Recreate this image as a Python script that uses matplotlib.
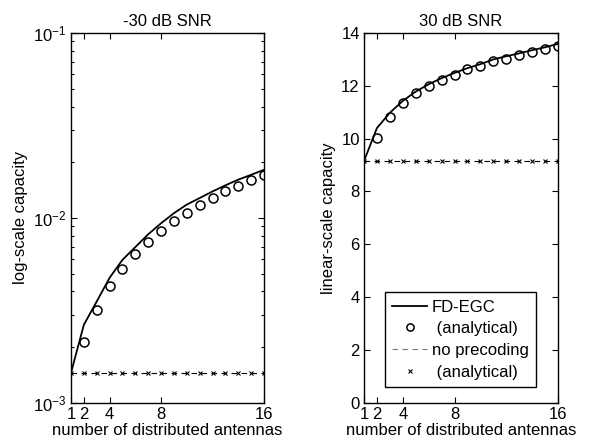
import matplotlib
matplotlib.use("Agg")
import matplotlib.pyplot as plt
import numpy as np

plt.rcParams['font.family'] = ['Liberation Sans', 'DejaVu Sans']
plt.rcParams['font.size'] = 12
plt.rcParams['mathtext.fontset'] = 'custom'
plt.rcParams['mathtext.rm'] = 'Liberation Sans'
plt.rcParams['mathtext.it'] = 'Liberation Sans'
plt.rcParams['mathtext.bf'] = 'Liberation Sans'

antennas = np.arange(1, 17)
xticks = [1, 2, 4, 8, 16]

# -30 dB SNR (log scale)
low_fd_egc = [1.45e-3, 2.64e-3, 3.53e-3, 4.74e-3, 5.93e-3, 6.95e-3, 8.15e-3, 9.35e-3,
              1.06e-2, 1.18e-2, 1.28e-2, 1.39e-2, 1.50e-2, 1.61e-2, 1.71e-2, 1.82e-2]
low_fd_egc_an = [1.45e-3, 2.14e-3, 3.18e-3, 4.29e-3, 5.30e-3, 6.40e-3, 7.43e-3, 8.49e-3,
                 9.61e-3, 1.06e-2, 1.18e-2, 1.28e-2, 1.39e-2, 1.49e-2, 1.61e-2, 1.70e-2]
low_noprec = [1.45e-3] * 16
low_noprec_an = [1.45e-3] * 16

# 30 dB SNR (linear scale)
high_fd_egc = [9.15, 10.4, 10.98, 11.43, 11.78, 12.06, 12.29, 12.49,
               12.67, 12.82, 13.0, 13.12, 13.23, 13.35, 13.46, 13.59]
high_fd_egc_an = [9.15, 10.04, 10.83, 11.34, 11.72, 12.0, 12.22, 12.41,
                  12.63, 12.76, 12.94, 13.03, 13.17, 13.29, 13.39, 13.49]
high_noprec = [9.15] * 16
high_noprec_an = [9.15] * 16

fig = plt.figure(figsize=(5.93, 4.46), dpi=100)
ax1 = fig.add_axes([0.1197, 0.097, 0.3255, 0.829])
ax2 = fig.add_axes([0.6138, 0.097, 0.3272, 0.829])

def draw(ax, fd, fd_an, nop, nop_an):
    l1, = ax.plot(antennas, fd, '-', color='black', lw=1.3, label='FD-EGC')
    l2, = ax.plot(antennas[1:], fd_an[1:], 'o', mfc='none', mec='black', ms=6.5, mew=1.1,
                  ls='none', label=' (analytical)')
    l3, = ax.plot(antennas, nop, '--', color='black', lw=0.8, dashes=(5, 4), label='no precoding')
    l4, = ax.plot(antennas, nop_an, 'x', color='black', ms=3.5, mew=0.8, ls='none', label=' (analytical)')
    ax.set_xlim(1, 16)
    ax.set_xticks(xticks)
    ax.set_xticklabels([str(t) for t in xticks])
    ax.tick_params(direction='in', which='both', top=True, right=True, length=4, width=0.8,
                   labelsize=12, pad=3)
    ax.tick_params(which='minor', length=2.5)
    ax.set_xlabel('number of distributed antennas', fontsize=12, labelpad=1)
    for s in ax.spines.values():
        s.set_linewidth(1.0)
    return [l1, l2, l3, l4]

draw(ax1, low_fd_egc, low_fd_egc_an, low_noprec, low_noprec_an)
ax1.set_yscale('log')
ax1.set_ylim(1e-3, 1e-1)
ax1.set_ylabel('log-scale capacity', fontsize=12)
ax1.set_title('-30 dB SNR', fontsize=12, pad=5)

handles = draw(ax2, high_fd_egc, high_fd_egc_an, high_noprec, high_noprec_an)
ax2.set_ylim(0, 14)
ax2.set_yticks(range(0, 15, 2))
ax2.set_ylabel('linear-scale capacity', fontsize=12)
ax2.set_title('30 dB SNR', fontsize=12, pad=5)

leg = ax2.legend(loc='lower left', bbox_to_anchor=(0.108, 0.0425), borderaxespad=0,
                 fancybox=False, framealpha=1, edgecolor='black', fontsize=12,
                 handlelength=2.1, handletextpad=0.25, labelspacing=0.4, borderpad=0.45,
                 markerscale=0.8)
leg.get_frame().set_linewidth(1.0)
leg.legend_handles[2].set_color('#777777')

fig.savefig('out.png', dpi=100)
